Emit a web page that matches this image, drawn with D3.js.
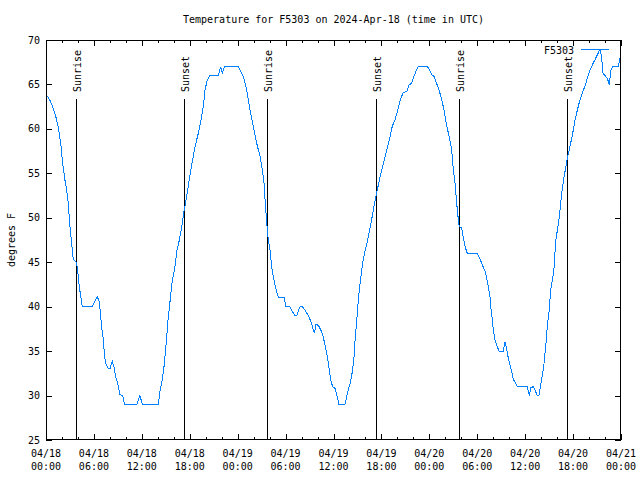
<!DOCTYPE html>
<html><head><meta charset="utf-8">
<script src="https://cdn.jsdelivr.net/npm/d3@7"></script>
<style>
body{margin:0;background:#fff;}
text{font-family:"DejaVu Sans Mono",monospace;font-size:10px;fill:#000;}
</style></head>
<body><svg id="c" width="640" height="480"></svg>
<script>
// hours since 2024-04-18 00:00 UTC
const hours = [0,0.5,0.91,1.25,1.54,1.84,2.09,2.38,2.59,2.79,3.0,3.22,3.42,3.76,3.92,4.13,4.29,4.55,5.80,6.42,6.67,6.97,7.18,7.30,7.48,7.80,8.01,8.30,8.51,8.73,9.02,9.27,9.60,9.85,11.36,11.77,12.06,14.06,14.28,14.53,14.78,15.03,15.28,15.53,15.82,16.15,16.37,16.65,16.99,17.28,17.62,17.94,18.28,18.66,19.07,19.41,19.70,19.91,20.20,20.54,21.58,21.88,22.08,22.33,24.08,24.29,24.71,25.13,25.54,25.96,26.38,26.80,27.09,27.30,27.46,27.64,27.84,28.05,28.26,28.46,28.71,28.93,29.14,29.84,30.02,30.55,30.89,31.18,31.39,31.81,32.09,32.43,32.85,33.18,33.60,33.81,34.10,34.40,34.72,34.97,35.22,35.47,35.69,35.90,36.19,36.40,36.69,37.44,37.65,37.90,38.15,38.40,38.57,38.73,38.91,39.11,39.32,39.53,39.73,39.94,40.23,40.57,40.70,41.07,41.41,41.82,42.24,42.66,43.08,43.36,43.70,44.04,44.42,44.74,45.17,45.45,45.79,46.08,46.33,46.62,47.75,48.00,48.30,48.59,48.92,49.21,49.55,49.84,50.18,50.50,50.80,51.00,51.22,51.43,51.63,51.75,52.05,52.25,52.46,52.75,54.01,54.34,54.63,54.97,55.18,55.38,55.60,55.72,55.89,56.01,56.22,56.44,56.72,57.26,57.48,57.69,57.89,58.10,58.32,58.52,58.82,59.02,60.27,60.52,60.73,61.02,61.23,61.52,61.73,61.98,62.20,62.36,62.57,62.77,62.99,63.20,63.45,63.61,63.82,64.03,64.28,64.58,64.87,65.11,65.33,65.61,65.95,66.24,66.53,66.87,67.21,67.49,67.78,68.12,68.41,68.75,69.08,69.37,69.58,69.71,70.00,70.28,70.54,70.71,70.96,71.66,71.88];
const temps = [63.9,63.2,62.3,61.3,60.2,58.4,56.1,54.2,53.1,51.6,49.0,47.0,45.3,45.0,44.5,42.6,41.5,40.0,40.0,41.1,40.6,37.7,36.3,34.7,33.6,33.0,33.0,33.9,33.2,32.1,31.2,30.1,30.0,29.0,29.0,30.0,29.0,29.0,30.6,31.6,33.3,35.7,38.5,40.6,43.0,44.5,46.2,47.3,48.9,50.7,52.4,54.3,56.1,58.0,59.5,61.0,62.5,64.4,65.5,66.0,66.0,67.0,66.2,67.0,67.0,66.6,65.9,64.4,62.1,60.3,58.4,56.9,55.4,53.9,51.6,49.4,47.5,46.4,44.5,43.4,42.3,41.5,41.0,41.0,40.0,40.0,39.4,39.0,39.0,40.0,40.0,39.6,39.0,38.3,37.0,38.0,37.9,37.4,36.6,35.5,34.4,32.9,31.6,31.0,30.8,30.1,29.0,29.0,29.9,30.8,31.6,32.9,34.4,36.6,38.5,40.8,42.6,44.1,45.3,46.2,47.3,48.8,49.4,51.3,52.8,54.6,56.1,57.6,59.1,60.3,61.0,62.1,63.4,64.1,64.2,64.9,65.2,65.9,66.5,67.0,67.0,66.7,66.1,65.9,65.1,64.4,63.3,62.1,60.3,59.1,57.6,55.4,53.9,51.6,49.8,49.0,48.9,47.8,46.8,46.0,46.0,45.4,44.7,44.0,43.2,42.3,41.1,39.8,38.5,37.4,36.3,35.7,35.0,35.0,36.0,35.2,34.2,33.4,32.7,31.8,31.4,31.0,31.0,30.0,30.9,31.0,30.6,30.0,30.0,31.4,32.5,33.6,35.5,37.8,39.4,41.9,43.2,44.3,47.3,48.6,50.1,52.8,54.6,55.8,56.9,58.0,59.5,61.0,62.1,63.3,64.2,64.8,65.7,66.6,67.2,67.8,68.4,69.0,68.1,66.3,66.0,65.7,65.0,66.5,67.0,67.0,68.0];
const sunEvents = [
  {h:3.79, label:"Sunrise"},{h:17.32, label:"Sunset"},
  {h:27.70, label:"Sunrise"},{h:41.36, label:"Sunset"},
  {h:51.75, label:"Sunrise"},{h:65.28, label:"Sunset"}];
const xTickHours = [0,6,12,18,24,30,36,42,48,54,60,66,72];
const xTickLabels = [["04/18","00:00"],["04/18","06:00"],["04/18","12:00"],["04/18","18:00"],["04/19","00:00"],["04/19","06:00"],["04/19","12:00"],["04/19","18:00"],["04/20","00:00"],["04/20","06:00"],["04/20","12:00"],["04/20","18:00"],["04/21","00:00"]];
const yTicks = [25,30,35,40,45,50,55,60,65,70];
const seriesName = "F5303";
const title = "Temperature for F5303 on 2024-Apr-18 (time in UTC)";
const yLabel = "degrees F";

const L=46,R=621,T=40,B=440;
const svg=d3.select("#c");
const x=d3.scaleLinear().domain([0,72]).range([L,R]);
const y=d3.scaleLinear().domain([25,70]).range([B,T]);
const blue="#0080ff";

// axes with inward ticks
const minor=d3.range(0,73,2);
svg.append("g").attr("transform",`translate(0,${B})`)
  .call(d3.axisBottom(x).tickValues(minor).tickSize(-3).tickFormat(""))
  .call(g=>g.select(".domain").remove());
svg.append("g").attr("transform",`translate(0,${T})`)
  .call(d3.axisTop(x).tickValues(minor).tickSize(-3).tickFormat(""))
  .call(g=>g.select(".domain").remove());
svg.append("g").attr("transform",`translate(0,${B})`)
  .call(d3.axisBottom(x).tickValues(xTickHours).tickSize(-6).tickFormat(""))
  .call(g=>g.select(".domain").remove());
svg.append("g").attr("transform",`translate(0,${T})`)
  .call(d3.axisTop(x).tickValues(xTickHours).tickSize(-6).tickFormat(""))
  .call(g=>g.select(".domain").remove());
svg.append("g").attr("transform",`translate(${L},0)`)
  .call(d3.axisLeft(y).tickValues(yTicks).tickSize(-6).tickFormat(""))
  .call(g=>g.select(".domain").remove());
svg.append("g").attr("transform",`translate(${R},0)`)
  .call(d3.axisRight(y).tickValues(yTicks).tickSize(-6).tickFormat(""))
  .call(g=>g.select(".domain").remove());
svg.selectAll(".tick line").attr("stroke","#000").attr("shape-rendering","crispEdges");

// tick labels
svg.append("g").selectAll("text").data(yTicks).join("text")
  .attr("x",L-6).attr("y",d=>y(d)).attr("text-anchor","end").attr("dominant-baseline","central").text(d=>d);
const xl=svg.append("g").selectAll("text").data(xTickHours).join("text")
  .attr("text-anchor","middle").attr("x",d=>x(d));
xl.append("tspan").attr("x",d=>x(d)).attr("y",457).text((d,i)=>xTickLabels[i][0]);
xl.append("tspan").attr("x",d=>x(d)).attr("y",470).text((d,i)=>xTickLabels[i][1]);

// sun events
const se=svg.append("g").selectAll("g").data(sunEvents).join("g");
se.append("line").attr("x1",d=>Math.round(x(d.h))+0.5).attr("x2",d=>Math.round(x(d.h))+0.5)
  .attr("y1",99).attr("y2",B).attr("stroke","#000").attr("stroke-width",1).attr("shape-rendering","crispEdges");
se.append("text").attr("transform",d=>`translate(${Math.round(x(d.h))+5},92) rotate(-90)`)
  .attr("text-anchor","start").text(d=>d.label);

// line
svg.append("path").datum(hours.map((h,i)=>[h,temps[i]]))
  .attr("fill","none").attr("stroke",blue).attr("stroke-width",1).attr("shape-rendering","crispEdges")
  .attr("d",d3.line().x(d=>x(d[0])).y(d=>y(d[1])));

// frame
svg.append("rect").attr("x",L+0.5).attr("y",T+0.5).attr("width",R-L-1).attr("height",B-T-1)
  .attr("fill","none").attr("stroke","#000").attr("stroke-width",1).attr("shape-rendering","crispEdges");

// legend
svg.append("text").attr("x",574).attr("y",50).attr("text-anchor","end").attr("dominant-baseline","central").text(seriesName);
svg.append("line").attr("x1",581).attr("x2",609).attr("y1",49.5).attr("y2",49.5).attr("stroke",blue).attr("shape-rendering","crispEdges");

// title and y label
svg.append("text").attr("x",(L+R)/2).attr("y",23).attr("text-anchor","middle").text(title);
svg.append("text").attr("transform",`translate(15,240) rotate(-90)`).attr("text-anchor","middle").text(yLabel);
</script></body></html>
